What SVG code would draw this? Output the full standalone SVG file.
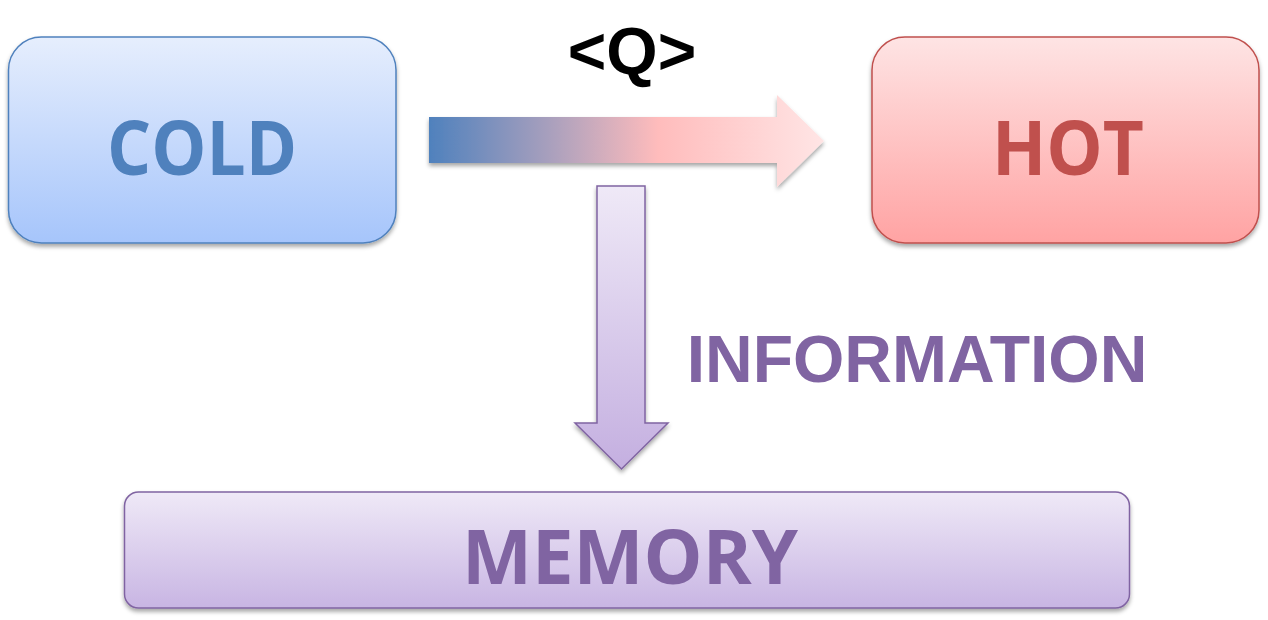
<svg xmlns="http://www.w3.org/2000/svg" width="1268" height="620" viewBox="0 0 1268 620">
<defs>
<linearGradient id="gCold" x1="0" y1="0" x2="0" y2="1"><stop offset="0" stop-color="#e6eefd"/><stop offset="1" stop-color="#a6c5fb"/></linearGradient>
<linearGradient id="gHot" x1="0" y1="0" x2="0" y2="1"><stop offset="0" stop-color="#fee4e4"/><stop offset="1" stop-color="#ffa3a3"/></linearGradient>
<linearGradient id="gMem" x1="0" y1="0" x2="0" y2="1"><stop offset="0" stop-color="#efe9f7"/><stop offset="1" stop-color="#c8b5e3"/></linearGradient>
<linearGradient id="gDown" x1="0" y1="0" x2="0" y2="1"><stop offset="0" stop-color="#efe9f7"/><stop offset="1" stop-color="#c4afe0"/></linearGradient>
<linearGradient id="gRight" gradientUnits="userSpaceOnUse" x1="429" y1="0" x2="824" y2="0"><stop offset="0" stop-color="#4f81bd"/><stop offset="0.3" stop-color="#a79fbd"/><stop offset="0.58" stop-color="#ffbcbc"/><stop offset="1" stop-color="#ffe5e5"/></linearGradient>
<filter id="sh" x="-10%" y="-10%" width="120%" height="130%"><feDropShadow dx="0" dy="3" stdDeviation="2" flood-color="#000" flood-opacity="0.35"/></filter>
</defs>
<style>
.big{font-family:"Open Sans","Noto Sans",sans-serif;font-weight:bold;font-size:76px;text-anchor:middle}
.lbl{font-family:"Liberation Sans",Arial,sans-serif;font-weight:bold;font-size:66px;text-anchor:middle}
</style>
<g id="connectors">
<path id="heat-arrow" d="M429,117 H777 V95 L824,141 L777,187 V163 H429 Z" fill="url(#gRight)" filter="url(#sh)"/>
<path id="info-arrow" d="M597,186 H645 V423 H668 L621.5,469 L575,423 H597 Z" fill="url(#gDown)" stroke="#8064a2" stroke-width="1.5" filter="url(#sh)"/>
<text class="lbl" x="632" y="74" fill="#000">&lt;Q&gt;</text>
<text class="lbl" x="917" y="382" fill="#8064a2">INFORMATION</text>
</g>
<g id="cold">
<rect x="8.5" y="37" width="387.5" height="206" rx="33" fill="url(#gCold)" stroke="#4f81bd" stroke-width="1.5" filter="url(#sh)"/>
<text class="big" x="202" y="175" fill="#4f81bd" textLength="190" lengthAdjust="spacingAndGlyphs">COLD</text>
</g>
<g id="hot">
<rect x="872" y="37" width="387" height="206" rx="33" fill="url(#gHot)" stroke="#c0504d" stroke-width="1.5" filter="url(#sh)"/>
<text class="big" x="1068" y="175" fill="#c0504d" textLength="152" lengthAdjust="spacingAndGlyphs">HOT</text>
</g>
<g id="memory">
<rect x="124.5" y="492" width="1005" height="116" rx="14" fill="url(#gMem)" stroke="#8064a2" stroke-width="1.5" filter="url(#sh)"/>
<text class="big" x="630" y="584" fill="#8064a2" textLength="336" lengthAdjust="spacingAndGlyphs">MEMORY</text>
</g>
</svg>
